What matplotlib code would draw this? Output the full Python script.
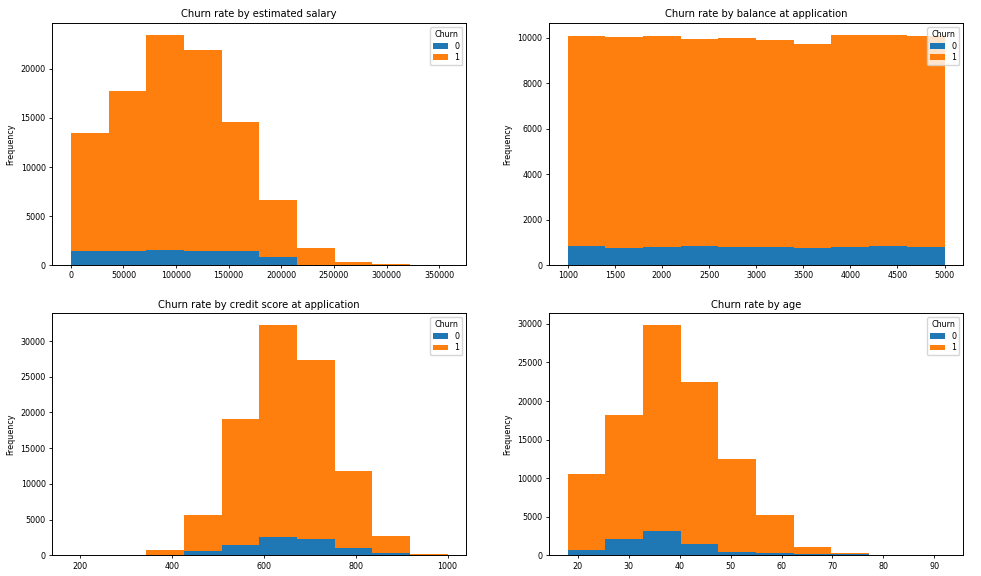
import numpy as np
import matplotlib
matplotlib.use("Agg")
import matplotlib.pyplot as plt

# bin edges (10 bins each, shared between churn groups)
salary_edges = np.linspace(0, 358000, 11)
balance_edges = np.linspace(1000, 5000, 11)
credit_edges = np.linspace(180, 1000, 11)
age_edges = np.linspace(18, 92, 11)

# counts per bin, churn 0 and churn 1
salary_0 = [1450, 1450, 1500, 1450, 1450, 850, 0, 0, 0, 0]
salary_1 = [12050, 16300, 22000, 20450, 13150, 5800, 1750, 350, 100, 10]

balance_0 = [840, 770, 800, 830, 800, 800, 770, 800, 830, 800]
balance_1 = [9230, 9260, 9270, 9090, 9200, 9080, 8950, 9300, 9300, 9260]

credit_0 = [0, 10, 40, 600, 1500, 2550, 2300, 1050, 300, 20]
credit_1 = [10, 90, 760, 5100, 17600, 29750, 25100, 10750, 2350, 180]

age_0 = [650, 2050, 3200, 1400, 450, 300, 150, 100, 30, 0]
age_1 = [9950, 16150, 26700, 21000, 12050, 4900, 950, 150, 50, 10]

panels = [
    ("Churn rate by estimated salary", salary_edges, salary_0, salary_1),
    ("Churn rate by balance at application", balance_edges, balance_0, balance_1),
    ("Churn rate by credit score at application", credit_edges, credit_0, credit_1),
    ("Churn rate by age", age_edges, age_0, age_1),
]

plt.rcParams['font.size'] = 5.8
plt.rcParams['axes.linewidth'] = 0.7

fig, axes = plt.subplots(2, 2, figsize=(9.81, 5.76), dpi=100)
plt.subplots_adjust(left=0.053, right=0.982, top=0.960, bottom=0.036,
                    wspace=0.199, hspace=0.198)

for ax, (title, edges, c0, c1) in zip(axes.flat, panels):
    widths = np.diff(edges)
    ax.bar(edges[:-1], c0, width=widths, align='edge', color='#1f77b4',
           linewidth=0, label='0')
    ax.bar(edges[:-1], c1, width=widths, align='edge', bottom=c0,
           color='#ff7f0e', linewidth=0, label='1')
    ax.set_title(title, fontsize=7.2, pad=4)
    ax.set_ylabel('Frequency', fontsize=5.8)
    ax.tick_params(labelsize=5.8, length=2.5, width=0.6, pad=2)
    ax.legend(title='Churn', loc='upper right', fontsize=5.8,
              title_fontsize=5.8, handlelength=1.8, borderpad=0.4,
              labelspacing=0.3)
    ax.margins(x=0.05)

axes[0, 1].set_xticks(np.arange(1000, 5001, 500))

plt.savefig('out.png', dpi=100)
